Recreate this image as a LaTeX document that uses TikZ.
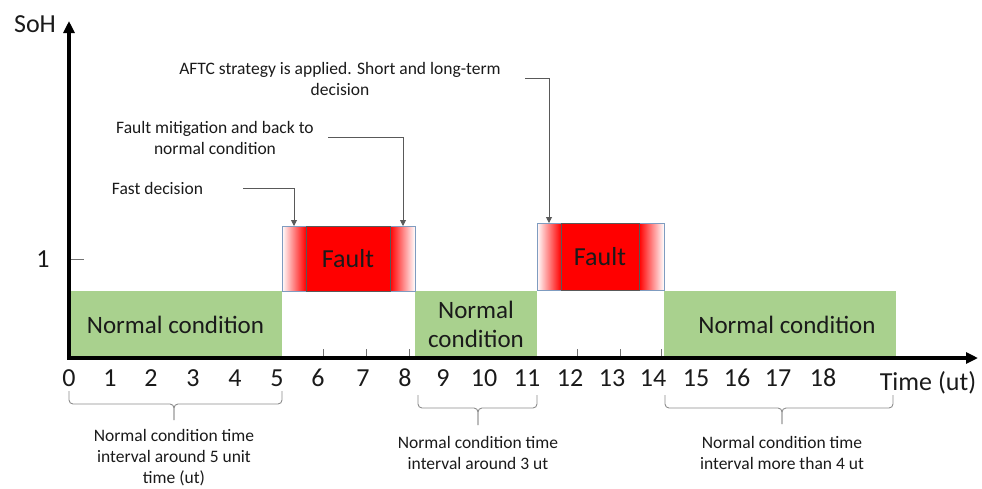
\documentclass[tikz,border=0pt]{standalone}
\usepackage{fontspec}
\setmainfont{Carlito}
\usetikzlibrary{arrows.meta,calc}
\definecolor{ngreen}{HTML}{A9D18E}
\definecolor{fframe}{HTML}{7F9CC0}
\definecolor{connc}{HTML}{595959}
\definecolor{bracec}{HTML}{8C8C8C}
\definecolor{txt}{HTML}{1A1A1A}
\definecolor{fred}{HTML}{FF0000}
\tikzset{
  gbox/.style={fill=ngreen, draw=none, inner sep=0pt, outer sep=0pt, anchor=north west,
    font=\fontsize{25}{29}\selectfont, text=txt, align=center},
  fframebox/.style={draw=fframe, line width=0.9pt, inner sep=0pt, outer sep=0pt, anchor=north west},
  redbox/.style={fill=fred, draw=black!65, line width=0.8pt, inner sep=0pt, outer sep=0pt, anchor=north west,
    font=\fontsize{26}{30}\selectfont, text=txt},
  axisline/.style={line width=3.8pt, -{Triangle[length=12pt,width=11pt]}},
  ticklab/.style={font=\fontsize{26}{30}\selectfont, text=txt, inner sep=0pt},
  smalltxt/.style={font=\fontsize{17.5}{21}\selectfont, text=txt, align=center, inner sep=0pt},
  connl/.style={draw=connc, line width=0.9pt, -{Triangle[length=6pt,width=6pt]}},
  bracel/.style={draw=bracec, line width=0.9pt, rounded corners=4pt},
  tickm/.style={draw=black!55, line width=0.8pt}
}
\begin{document}
\begin{tikzpicture}[x=1pt,y=-1pt]
\useasboundingbox (0,0) rectangle (982,488);

% normal condition boxes
\node[gbox, minimum width=213pt, minimum height=67pt] (n1) at (69,291) {Normal condition};
\node[gbox, minimum width=122pt, minimum height=67pt] (n2) at (415,291) {Normal\\condition};
\node[gbox, minimum width=232pt, minimum height=67pt] (n3) at (664,291) {\hspace*{14pt}Normal condition};

% fault 1
\fill[left color=white, right color=fred] (282,226) rectangle (306,291);
\fill[left color=fred, right color=white] (390,226) rectangle (415,291);
\node[fframebox, minimum width=133pt, minimum height=65pt] (f1) at (282,226) {};
\node[redbox, minimum width=84pt, minimum height=65pt] (r1) at (306,226) {Fault};

% fault 2
\fill[left color=white, right color=fred] (537,223) rectangle (561,290);
\fill[left color=fred, right color=white] (639,223) rectangle (664,290);
\node[fframebox, minimum width=127pt, minimum height=67pt] (f2) at (537,223) {};
\node[redbox, minimum width=78pt, minimum height=67pt] (r2) at (561,223) {Fault};

% ticks on x axis
\foreach \tx in {323,366,409,577,620,661}
  \draw[tickm] (\tx,349) -- (\tx,358);
% tick on y axis
\coordinate (yt1) at (71,259);
\coordinate (yt2) at (84,259);
\draw[tickm] (yt1) -- (yt2);

% axes
\coordinate (O) at (69,358);
\coordinate (Xe) at (978,358);
\coordinate (Ye) at (69,21);
\draw[axisline] (O) -- (Xe);
\draw[axisline] ($(O)+(0,1.9)$) -- (Ye);

\node[font=\fontsize{26}{30}\selectfont, text=txt, inner sep=0pt] (soh) at (35,24) {SoH};
\node[ticklab] (one) at (43,259) {1};
\node[ticklab] (timel) at (928,383) {Time (ut)};

\foreach \px/\lab in {69/0,110/1,151/2,193/3,235/4,277/5,318/6,363/7,405/8,443/9,484/10,527/11,570/12,612/13,653/14,696/15,737/16,778/17,823/18}
  \node[ticklab] (t\lab) at (\px,378) {\lab};

% annotations
\node[smalltxt] (aftc) at (340,78.5) {AFTC strategy is applied. Short and long-term\\decision};
\node[smalltxt] (fm) at (215,137.5) {Fault mitigation and back to\\normal condition};
\node[smalltxt] (fd) at (157.5,188) {Fast decision};
\coordinate (c1) at (525,78);
\coordinate (c2) at (328,137);
\coordinate (c3) at (243,188);
\draw[connl] (c1) -| ($(f2.north west)+(12,0)$);
\draw[connl] (c2) -| ($(f1.north west)+(121,0)$);
\draw[connl] (c3) -| ($(f1.north west)+(12,0)$);

% braces
\coordinate (b1l) at (69,391);
\coordinate (b1r) at (282,391);
\coordinate (b1m) at (174,404);
\coordinate (b1t) at (174,420);
\draw[bracel] (b1l) |- (b1m) -- (b1t);
\draw[bracel] (b1r) |- (b1m) -- (b1t);
\coordinate (b2l) at (418,395);
\coordinate (b2r) at (537,395);
\coordinate (b2m) at (478,408);
\coordinate (b2t) at (478,425);
\draw[bracel] (b2l) |- (b2m) -- (b2t);
\draw[bracel] (b2r) |- (b2m) -- (b2t);
\coordinate (b3l) at (665,395);
\coordinate (b3r) at (893,395);
\coordinate (b3m) at (782,408);
\coordinate (b3t) at (782,424);
\draw[bracel] (b3l) |- (b3m) -- (b3t);
\draw[bracel] (b3r) |- (b3m) -- (b3t);

\node[smalltxt] (bt1) at (174,458) {Normal condition time\\interval around 5 unit\\time (ut)};
\node[smalltxt] (bt2) at (478,452.5) {Normal condition time\\interval around 3 ut};
\node[smalltxt] (bt3) at (782,452.5) {Normal condition time\\interval more than 4 ut};
\end{tikzpicture}
\end{document}
